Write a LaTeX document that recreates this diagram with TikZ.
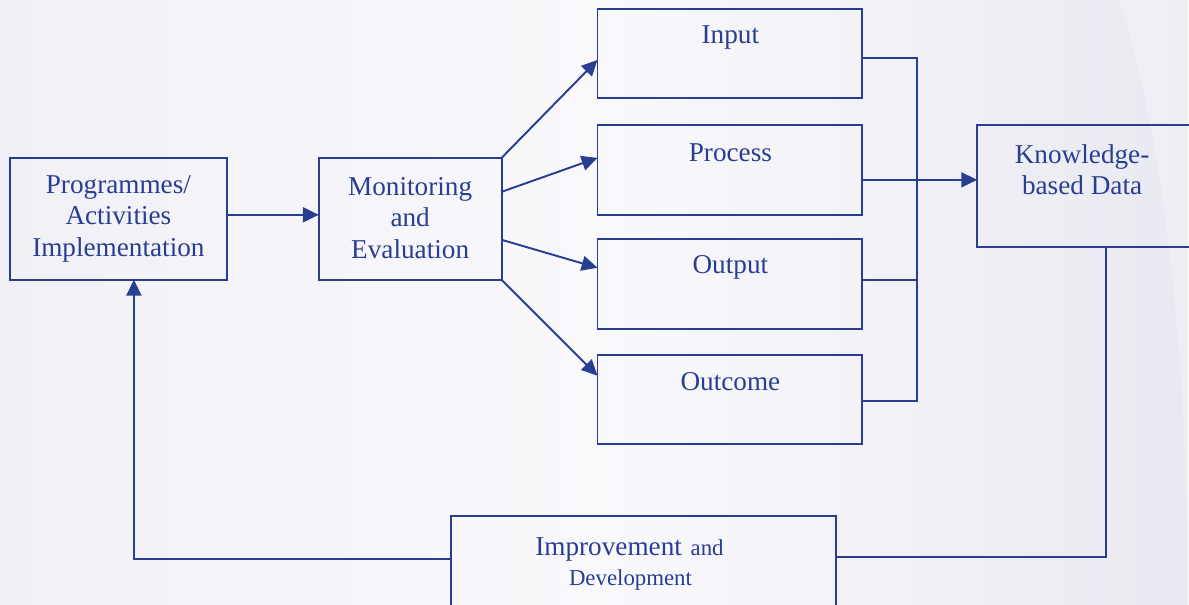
\documentclass[tikz,border=0pt]{standalone}
\usepackage{fontspec}
\setmainfont{Liberation Serif}
\usetikzlibrary{arrows.meta,shadings}
\definecolor{ink}{RGB}{40,62,145}
\definecolor{bgmid}{RGB}{249,249,252}
\definecolor{bgside}{RGB}{240,240,246}
\definecolor{bgedge}{RGB}{233,233,241}
\begin{document}
\begin{tikzpicture}[x=0.02cm,y=-0.02cm,
  box/.style={draw=ink,line width=1.1pt},
  link/.style={draw=ink,line width=1.1pt},
  arr/.style={link,-{Triangle[length=9pt,width=8.5pt]}},
  lbl/.style={text=ink,font=\fontsize{15.5}{18}\selectfont,align=center}]
% page background with soft side tints
\shade[left color=bgside,right color=bgmid] (0,0) rectangle (600,605);
\shade[left color=bgmid,right color=bgedge] (600,0) rectangle (1189,605);
\fill[bgmid,opacity=0.35] (1189,0) -- (1120,0) .. controls (1170,150) and (1190,400) .. (1189,605) -- cycle;
\useasboundingbox (0,0) rectangle (1189,605);

% boxes
\draw[box] (10,158) rectangle (227,280);
\coordinate (prgE) at (227,215);
\coordinate (prgS) at (134,280);
\node[lbl] (prg) at (118.5,219) {Programmes/\\Activities\\Implementation};

\draw[box] (319,158) rectangle (502,280);
\coordinate (monW) at (319,215);
\coordinate (monNE) at (502,158);
\coordinate (monE1) at (502,192);
\coordinate (monE2) at (502,240);
\coordinate (monSE) at (502,280);
\node[lbl] (mon) at (410.5,218) {Monitoring\\and\\Evaluation};

\draw[box] (598,9) rectangle (863,98);
\coordinate (inW) at (598,60);
\coordinate (inE) at (863,58);
\node[lbl] (in) at (731,38) {Input};

\draw[box] (598,125) rectangle (863,215);
\coordinate (prW) at (598,158);
\coordinate (prE) at (863,180);
\node[lbl] (pr) at (731,153) {Process};

\draw[box] (598,239) rectangle (863,329);
\coordinate (outW) at (598,268);
\coordinate (outE) at (863,280);
\node[lbl] (out) at (731,268) {Output};

\draw[box] (598,355) rectangle (863,444);
\coordinate (ocW) at (598,376);
\coordinate (ocE) at (863,401);
\node[lbl] (oc) at (731,382) {Outcome};

\draw[box] (978,125) rectangle (1200,247);
\coordinate (kbW) at (978,180);
\coordinate (kbS) at (1107,247);
\node[lbl] (kb) at (1083,170) {Knowledge-\\based Data};

\draw[box] (451,516) rectangle (837,620);
\coordinate (imW) at (451,559);
\coordinate (imE) at (837,557);
\node[text=ink] (im1) at (630,550)
  {{\fontsize{15.5}{18}\selectfont Improvement}\ \ {\fontsize{13}{18}\selectfont and}};
\node[text=ink,font=\fontsize{13}{16}\selectfont] (im2) at (631,580) {Development};

% connectors
\coordinate (bus) at (918,0);
\draw[arr] (prgE) -- (monW);
\draw[arr] (monNE) -- (inW);
\draw[arr] (monE1) -- (prW);
\draw[arr] (monE2) -- (outW);
\draw[arr] (monSE) -- (ocW);
\draw[link] (inE) -| (bus |- ocE) -- (ocE);
\draw[link] (outE) -- (bus |- outE);
\draw[arr] (prE) -- (kbW);
\draw[link] (kbS) |- (imE);
\draw[arr] (imW) -| (prgS);
\end{tikzpicture}
\end{document}
